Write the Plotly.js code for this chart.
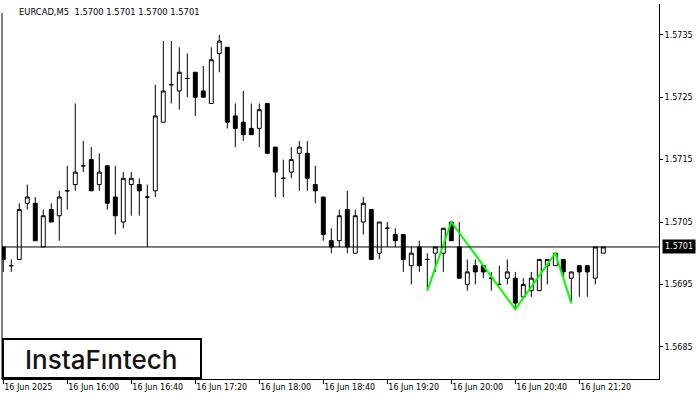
<!DOCTYPE html>
<html>
<head>
<meta charset="utf-8">
<script src="https://cdn.plot.ly/plotly-3.0.1.min.js"></script>
<style>
html,body{margin:0;padding:0;background:#fff;}
#chart{width:700px;height:400px;}
</style>
</head>
<body>
<div id="chart"></div>
<script>
var DAY = '2025-06-16';
var times = ['15:20','15:25','15:30','15:35','15:40','15:45','15:50','15:55',
  '16:00','16:05','16:10','16:15','16:20','16:25','16:30','16:35','16:40','16:45','16:50','16:55',
  '17:00','17:05','17:10','17:15','17:20','17:25','17:30','17:35','17:40','17:45','17:50','17:55',
  '18:00','18:05','18:10','18:15','18:20','18:25','18:30','18:35','18:40','18:45','18:50','18:55',
  '19:00','19:05','19:10','19:15','19:20','19:25','19:30','19:35','19:40','19:45','19:50','19:55',
  '20:00','20:05','20:10','20:15','20:20','20:25','20:30','20:35','20:40','20:45','20:50','20:55',
  '21:00','21:05','21:10','21:15','21:20','21:25','21:30','21:35'];
var open = [1.5701,1.5698,1.5699,1.5708,1.5708,1.5701,1.5707,1.5706,
  1.5710,1.5711,1.5714,1.5715,1.5711,1.5714,1.5709,1.5705,1.5711,1.5711,1.5709,1.5710,
  1.5721,1.5727,1.5726,1.5728,1.5729,1.5726,1.5724,1.5732,1.5733,1.5722,1.5721,1.5720,
  1.5720,1.5724,1.5717,1.5712,1.5713,1.5716,1.5716,1.5711,1.5709,1.5702,1.5702,1.5707,
  1.5700,1.5705,1.5707,1.5700,1.5704,1.5703,1.5703,1.5698,1.5701,1.5699,1.5700,1.5700,
  1.5705,1.5701,1.5695,1.5698,1.5698,1.5696,1.5695,1.5696,1.5696,1.5693,1.5694,1.5694,
  1.5698,1.5698,1.5699,1.5696,1.5698,1.5698,1.5696,1.5700];
var high = [1.5701,1.5699,1.5708,1.5711,1.5709,1.5707,1.5708,1.5710,
  1.5714,1.5724,1.5718,1.5717,1.5716,1.5714,1.5714,1.5713,1.5713,1.5712,1.5711,1.5727,
  1.5734,1.5734,1.5733,1.5732,1.5729,1.5730,1.5733,1.5735,1.5733,1.5724,1.5726,1.5724,
  1.5724,1.5724,1.5717,1.5715,1.5717,1.5718,1.5718,1.5714,1.5709,1.5704,1.5707,1.5710,
  1.5707,1.5709,1.5707,1.5705,1.5705,1.5704,1.5703,1.5701,1.5702,1.5700,1.5701,1.5704,
  1.5705,1.5705,1.5699,1.5699,1.5698,1.5697,1.5698,1.5699,1.5697,1.5696,1.5697,1.5699,
  1.5699,1.5700,1.5699,1.5697,1.5698,1.5698,1.5701,1.5701];
var low = [1.5697,1.5697,1.5699,1.5707,1.5702,1.5701,1.5705,1.5702,
  1.5707,1.5710,1.5713,1.5710,1.5710,1.5707,1.5703,1.5704,1.5706,1.5706,1.5701,1.5709,
  1.5721,1.5724,1.5723,1.5725,1.5722,1.5725,1.5724,1.5729,1.5720,1.5717,1.5718,1.5719,
  1.5717,1.5716,1.5709,1.5709,1.5712,1.5710,1.5710,1.5708,1.5702,1.5700,1.5701,1.5700,
  1.5700,1.5703,1.5699,1.5699,1.5701,1.5701,1.5697,1.5695,1.5697,1.5694,1.5697,1.5697,
  1.5702,1.5696,1.5694,1.5695,1.5696,1.5694,1.5695,1.5695,1.5691,1.5693,1.5693,1.5694,
  1.5695,1.5698,1.5696,1.5692,1.5693,1.5693,1.5695,1.5700];
var close = [1.5699,1.5698,1.5707,1.5709,1.5702,1.5706,1.5705,1.5709,
  1.5710,1.5713,1.5714,1.5710,1.5713,1.5708,1.5706,1.5712,1.5712,1.5710,1.5709,1.5722,
  1.5726,1.5727,1.5729,1.5728,1.5725,1.5725,1.5731,1.5734,1.5721,1.5720,1.5719,1.5719,
  1.5723,1.5716,1.5713,1.5712,1.5715,1.5717,1.5712,1.5710,1.5703,1.5701,1.5706,1.5701,
  1.5706,1.5708,1.5699,1.5705,1.5704,1.5702,1.5699,1.5700,1.5698,1.5699,1.5701,1.5704,
  1.5702,1.5696,1.5697,1.5697,1.5697,1.5696,1.5695,1.5697,1.5692,1.5695,1.5696,1.5699,
  1.5699,1.5700,1.5697,1.5697,1.5697,1.5697,1.5701,1.5701];

var currentPrice = 1.5701;
var patternTimes = ['19:45','20:00','20:40','21:05','21:15'];
var patternPrices = [1.5694,1.5705,1.5691,1.5700,1.5692];

var tickTimes = ['15:20','16:00','16:40','17:20','18:00','18:40','19:20','20:00','20:40','21:20'];
var tickLabels = ['16 Jun 2025','16 Jun 16:00','16 Jun 16:40','16 Jun 17:20','16 Jun 18:00',
  '16 Jun 18:40','16 Jun 19:20','16 Jun 20:00','16 Jun 20:40','16 Jun 21:20'];
var priceTicks = [1.5685,1.5695,1.5705,1.5715,1.5725,1.5735];
var titleText = 'EURCAD,M5\u00a0\u00a01.5700 1.5701 1.5700 1.5701';
var logoText = 'InstaF\u0131ntech';

function ts(t){ return DAY + ' ' + t; }

var FONT = 'DejaVu Sans, Verdana, sans-serif';

var candle = {
  type: 'candlestick',
  x: times.map(ts),
  open: open, high: high, low: low, close: close,
  increasing: {line: {color: '#000', width: 1}, fillcolor: '#fff'},
  decreasing: {line: {color: '#000', width: 1}, fillcolor: '#000'},
  whiskerwidth: 0,
  hoverinfo: 'none',
  showlegend: false
};

var pattern = {
  type: 'scatter', mode: 'lines',
  x: patternTimes.map(ts), y: patternPrices,
  line: {color: '#00ff00', width: 2},
  hoverinfo: 'none', showlegend: false
};

var layout = {
  width: 700, height: 400,
  margin: {l: 2, r: 41, t: 4, b: 21, pad: 0},
  paper_bgcolor: '#fff', plot_bgcolor: '#fff',
  showlegend: false,
  xaxis: {
    type: 'date',
    range: ['2025-06-16 15:19:12', '2025-06-16 22:09:48'],
    rangeslider: {visible: false},
    showgrid: false, zeroline: false,
    showline: true, linecolor: '#000', linewidth: 1,
    ticks: 'outside', ticklen: 4, tickcolor: '#000', tickwidth: 1,
    tickmode: 'array', tickvals: tickTimes.map(ts), ticktext: tickLabels,
    ticklabelposition: 'outside right',
    tickfont: {family: FONT, size: 8, color: '#000'}
  },
  yaxis: {
    side: 'right',
    range: [1.567984, 1.5739936],
    showgrid: false, zeroline: false,
    showline: true, linecolor: '#000', linewidth: 1,
    ticks: 'outside', ticklen: 3, tickcolor: '#000',
    tickmode: 'array', tickvals: priceTicks, ticktext: priceTicks.map(function(v){return v.toFixed(4);}),
    tickfont: {family: FONT, size: 8, color: '#000'}
  },
  shapes: [
    {type: 'line', xref: 'paper', yref: 'paper', x0: 0, x1: 0, y0: 0, y1: 0.976,
     line: {color: '#000', width: 1}},
    {type: 'line', xref: 'paper', yref: 'y', x0: 0, x1: 1, y0: currentPrice, y1: currentPrice,
     line: {color: '#000', width: 1}},
    {type: 'rect', xref: 'paper', yref: 'paper', x0: 0.0015, x1: 0.3029, y0: 0.0027, y1: 0.1067,
     fillcolor: '#fff', line: {color: '#000', width: 2}, layer: 'above'}
  ],
  annotations: [
    {xref: 'paper', yref: 'paper', x: 0.0228, y: 0.9787, xanchor: 'left', yanchor: 'middle',
     text: titleText, showarrow: false, font: {family: FONT, size: 8.4, color: '#000'}},
    {xref: 'paper', yref: 'y', x: 1.004, y: currentPrice, xanchor: 'left', yanchor: 'middle',
     text: currentPrice.toFixed(4), showarrow: false, bgcolor: '#000', borderpad: 2,
     font: {family: FONT, size: 8, color: '#fff'}},
    {xref: 'paper', yref: 'paper', x: 0.1522, y: 0.0533, xanchor: 'center', yanchor: 'middle',
     text: logoText, showarrow: false, font: {family: 'Inter, Lato, sans-serif', size: 26, color: '#111', weight: 500}}
  ]
};

Plotly.newPlot('chart', [candle, pattern], layout, {staticPlot: true, displayModeBar: false});
</script>
</body>
</html>
